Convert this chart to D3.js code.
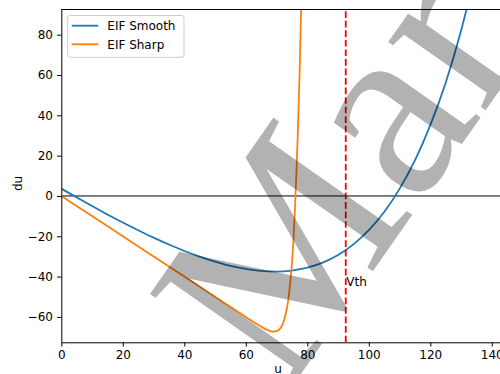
<!DOCTYPE html>
<html>
<head>
<meta charset="utf-8">
<script src="https://cdn.jsdelivr.net/npm/d3@7"></script>
<style>
  body { margin: 0; background: #fff; }
  svg text { font-family: "DejaVu Sans", sans-serif; }
</style>
</head>
<body>
<svg id="chart" width="500" height="374"></svg>
<script>
// values
const smoothU  = [0, 5, 10, 15, 20, 25, 30, 35, 40, 45, 50, 55, 60, 65, 70, 75, 80, 85, 90, 95, 100, 105, 110, 115, 120, 125, 130, 133];
const smoothDu = [3.6, -0.7, -5.0, -9.2, -13.2, -17.0, -20.7, -24.1, -27.3, -30.1, -32.6, -34.7, -36.2, -37.2, -37.5, -37.0, -35.6, -33.1, -29.3, -24.0, -17.0, -8.0, 3.5, 17.6, 35.1, 56.2, 82.0, 100];

const sharpU  = [0, 10, 20, 30, 40, 50, 60, 64, 66, 67, 68, 69, 70, 71, 72, 73, 73.5, 74, 74.5, 75, 75.5, 76, 76.5, 77, 77.5, 78, 78.3];
const sharpDu = [0, -10, -20, -30, -40, -50, -60, -63.9, -65.7, -66.4, -67.0, -67.3, -67.1, -66.1, -63.6, -58.3, -54.5, -49.3, -42.3, -33.5, -22, -6, 13, 35, 61, 93, 115];

const seriesNames = ["EIF Smooth", "EIF Sharp"];
const seriesColors = ["#1f77b4", "#ff7f0e"];
const vth = 92.5;
const xTicks = [0, 20, 40, 60, 80, 100, 120, 140];
const yTicks = [-60, -40, -20, 0, 20, 40, 60, 80];
const watermark = "Mark";

const svg = d3.select("#chart");
const mLeft = 61.3, mTop = 9.5, mBottom = 342.3;

const x = d3.scaleLinear().domain([0, 150]).range([mLeft, mLeft + 150 * 3.075]);
const y = d3.scaleLinear().domain([-72.6, 92.5]).range([mBottom, mTop]);

svg.append("defs").append("clipPath").attr("id", "plot")
  .append("rect").attr("x", mLeft).attr("y", mTop)
  .attr("width", x.range()[1] - mLeft).attr("height", mBottom - mTop);

const plot = svg.append("g").attr("clip-path", "url(#plot)");

// zero line
plot.append("line")
  .attr("x1", mLeft).attr("x2", x.range()[1])
  .attr("y1", y(0)).attr("y2", y(0))
  .attr("stroke", "#000").attr("stroke-width", 1);

const line = d3.line()
  .x(d => x(d[0]))
  .y(d => y(d[1]))
  .curve(d3.curveMonotoneX);

const series = [
  d3.zip(smoothU, smoothDu),
  d3.zip(sharpU, sharpDu)
];

series.forEach((pts, i) => {
  plot.append("path")
    .datum(pts)
    .attr("d", line)
    .attr("fill", "none")
    .attr("stroke", seriesColors[i])
    .attr("stroke-width", 1.8);
});

// threshold
plot.append("line")
  .attr("x1", x(vth)).attr("x2", x(vth))
  .attr("y1", mBottom).attr("y2", mTop)
  .attr("stroke", "#ff0000").attr("stroke-width", 1.8)
  .attr("stroke-dasharray", "6.66,2.88");

svg.append("text")
  .attr("x", x(vth) + 0.5).attr("y", y(-44.6))
  .attr("font-size", 12).attr("fill", "#000")
  .text("Vth");

// axes
const xAxis = svg.append("g")
  .attr("transform", "translate(0," + mBottom + ")")
  .call(d3.axisBottom(x).tickValues(xTicks).tickSize(4.2).tickPadding(4.2).tickSizeOuter(0));

const yAxis = svg.append("g")
  .attr("transform", "translate(" + mLeft + ",0)")
  .call(d3.axisLeft(y).tickValues(yTicks).tickSize(4.2).tickPadding(4.2).tickSizeOuter(0));

[xAxis, yAxis].forEach(g => {
  g.selectAll("text").attr("font-size", 12).attr("font-family", "DejaVu Sans").attr("fill", "#000");
  g.selectAll("line").attr("stroke", "#000").attr("stroke-width", 1);
  g.select(".domain").attr("stroke", "#000").attr("stroke-width", 1);
});
yAxis.select(".domain").attr("d", "M0.5," + mTop + "V" + mBottom);

// top spine
svg.append("line")
  .attr("x1", mLeft).attr("x2", 500)
  .attr("y1", mTop).attr("y2", mTop)
  .attr("stroke", "#000").attr("stroke-width", 1);

// axis labels
svg.append("text")
  .attr("x", 278).attr("y", 372.5)
  .attr("text-anchor", "middle").attr("font-size", 12)
  .text("u");

svg.append("text")
  .attr("transform", "translate(21.5,183.5) rotate(-90)")
  .attr("text-anchor", "middle").attr("font-size", 12)
  .text("du");

// legend
const legend = svg.append("g");
legend.append("rect")
  .attr("x", 67.7).attr("y", 15.5)
  .attr("width", 116.3).attr("height", 41.8)
  .attr("rx", 2.4)
  .attr("fill", "#fff").attr("fill-opacity", 0.8)
  .attr("stroke", "#cccccc").attr("stroke-width", 1);

seriesNames.forEach((name, i) => {
  const cy = 25.7 + i * 18.6;
  legend.append("line")
    .attr("x1", 71.7).attr("x2", 98.3)
    .attr("y1", cy).attr("y2", cy)
    .attr("stroke", seriesColors[i]).attr("stroke-width", 1.8);
  legend.append("text")
    .attr("x", 107.3).attr("y", cy + 4.3)
    .attr("font-size", 12)
    .text(name);
});

// watermark on top
svg.append("text")
  .attr("transform", "translate(284.6,397.3) rotate(-55)")
  .attr("font-size", 259)
  .attr("fill", "#000").attr("fill-opacity", 0.3)
  .style("font-family", "'Liberation Serif', serif")
  .text(watermark);
</script>
</body>
</html>
